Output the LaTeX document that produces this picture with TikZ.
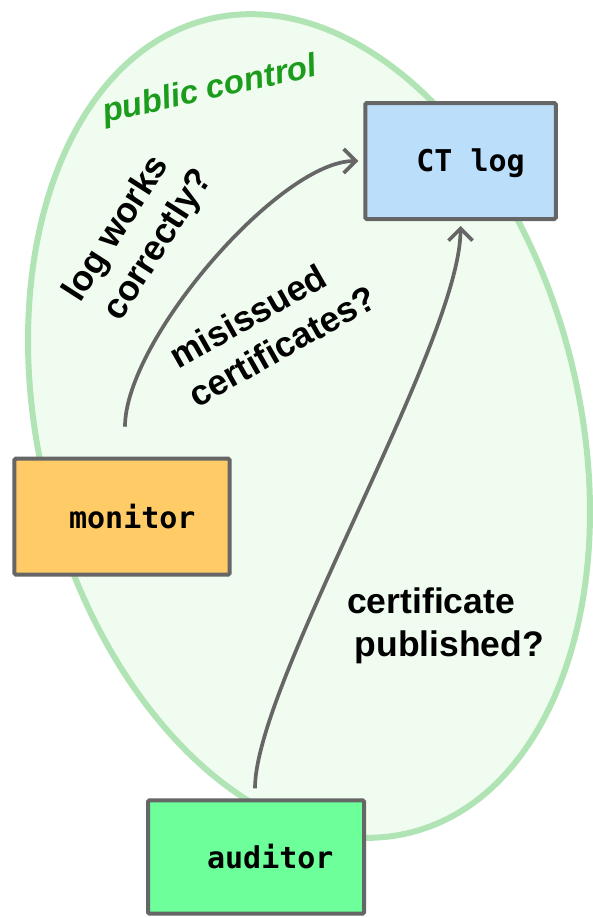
\documentclass[tikz,border=0pt]{standalone}
\usepackage{fontspec}
\setmainfont{Liberation Sans}
\setmonofont{DejaVu Sans Mono}
\usetikzlibrary{arrows.meta}

\definecolor{zonefill}{RGB}{241,252,240}
\definecolor{zoneline}{RGB}{176,228,180}
\definecolor{zonetext}{RGB}{28,156,28}
\definecolor{edgegray}{RGB}{102,102,102}
\definecolor{logblue}{RGB}{187,222,251}
\definecolor{monorange}{RGB}{255,203,102}
\definecolor{audgreen}{RGB}{108,255,154}

\begin{document}
\begin{tikzpicture}[x=1pt,y=-1pt,
  party/.style={draw=edgegray, line width=4pt, rounded corners=1.5pt, inner sep=0pt},
  partyname/.style={font=\fontsize{30}{36}\selectfont\ttfamily\bfseries, inner sep=0pt, anchor=base},
  question/.style={font=\fontsize{35.5}{43}\selectfont\bfseries, inner sep=0pt, anchor=base west},
  zonelabel/.style={font=\fontsize{33}{40}\selectfont\bfseries\itshape, text=zonetext, inner sep=0pt, anchor=base west},
  link/.style={draw=edgegray, line width=3.7pt, -{Straight Barb[length=12pt,width=24pt]}},
]
\useasboundingbox (0,0) rectangle (592,918);

% public-control zone
\draw[zoneline, fill=zonefill, line width=6pt, rotate around={14:(309,426)}]
  (309,426) ellipse [x radius=270, y radius=419];

% parties
\node[party, fill=logblue, minimum width=190.5pt, minimum height=116pt] (ctlog) at (460.5,161) {};
\node[party, fill=monorange, minimum width=215.4pt, minimum height=116pt] (monitor) at (122,516.7) {};
\node[party, fill=audgreen, minimum width=216pt, minimum height=113.4pt] (auditor) at (256,857) {};

\node[partyname] (ctlog-name) at ([xshift=10pt,yshift=-10pt]ctlog.center) {CT log};
\node[partyname] (monitor-name) at ([xshift=10.3pt,yshift=-11.6pt]monitor.center) {monitor};
\node[partyname] (auditor-name) at ([xshift=14.3pt,yshift=-11.3pt]auditor.center) {auditor};

% checks
\draw[link] ([xshift=3pt,yshift=30pt]monitor.north)
  .. controls (125,340) and (280,161) .. ([xshift=-5pt]ctlog.west);
\draw[link] ([xshift=-1pt,yshift=10pt]auditor.north)
  .. controls (255,683) and (460.5,342) .. ([yshift=-5pt]ctlog.south);

% labels
\begin{scope}[shift={(105,123)}, rotate=12.5, transform shape]
  \node[zonelabel] (zone-name) at (0,0) {public control};
\end{scope}

\begin{scope}[shift={(80,304)}, rotate=57.3, transform shape]
  \node[question] (q-log-1) at (0,0) {log works};
  \node[question] (q-log-2) at (6,44) {correctly?};
\end{scope}

\begin{scope}[shift={(178,370)}, rotate=29.5, transform shape]
  \node[question] (q-mis-1) at (0,0) {misissued};
  \node[question] (q-mis-2) at (-2,43) {certificates?};
\end{scope}

\node[question] (q-pub-1) at (347,613) {certificate};
\node[question] (q-pub-2) at (354.5,656) {published?};
\end{tikzpicture}
\end{document}
